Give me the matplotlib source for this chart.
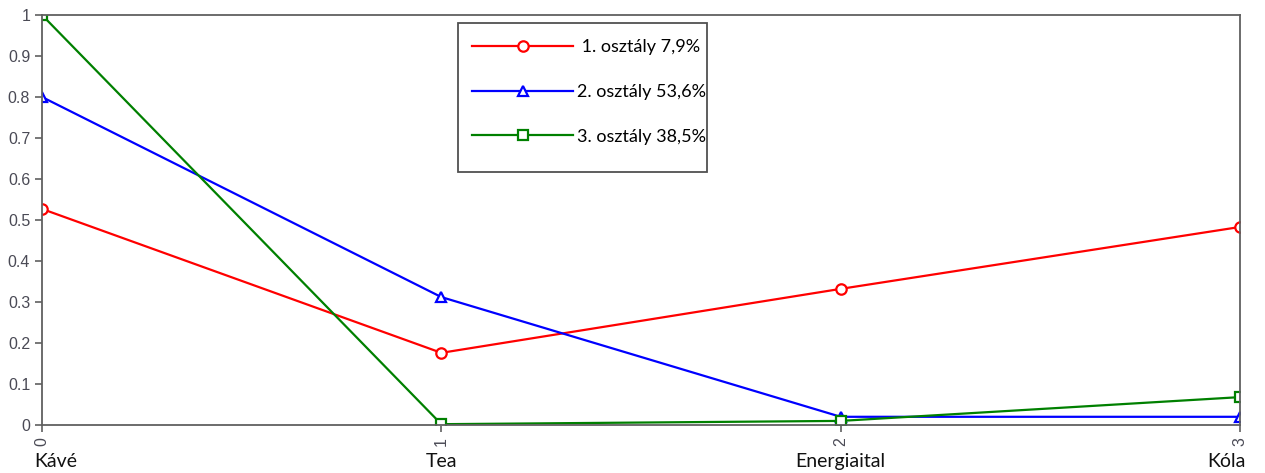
import matplotlib
matplotlib.use("Agg")
import matplotlib.pyplot as plt
from matplotlib.patches import Rectangle

categories = ["Kávé", "Tea", "Energiaital", "Kóla"]
x_ticks = [0, 1, 2, 3]
class1 = [0.527, 0.176, 0.332, 0.483]
class2 = [0.800, 0.312, 0.020, 0.020]
class3 = [1.000, 0.002, 0.010, 0.068]
labels = [" 1. osztály 7,9%", "2. osztály 53,6%", "3. osztály 38,5%"]
y_ticks = [0, 0.1, 0.2, 0.3, 0.4, 0.5, 0.6, 0.7, 0.8, 0.9, 1]
y_ticklabels = ["0", "0.1", "0.2", "0.3", "0.4", "0.5", "0.6", "0.7", "0.8", "0.9", "1"]

plt.rcParams['font.family'] = ['Lato', 'DejaVu Sans']

W, H = 1265, 473
fig = plt.figure(figsize=(W / 100, H / 100), dpi=100)
L, R, T, B = 42, 1240, 15, 425
ax = fig.add_axes([L / W, (H - B) / H, (R - L) / W, (B - T) / H])

def ax_x(px):
    return (px - L) / (R - L)

def ax_y(py):
    return (B - py) / (B - T)

series = [class1, class2, class3]
colors = ["#ff0000", "#0000ff", "#008000"]
markers = ["o", "^", "s"]
for vals, c, m, lab in zip(series, colors, markers, labels):
    ax.plot(x_ticks, vals, color=c, lw=1.6, marker=m, markersize=7.5,
            markerfacecolor="white", markeredgecolor=c, markeredgewidth=1.6,
            label=lab, clip_on=True)

ax.set_xlim(0, 3)
ax.set_ylim(0, 1)
ax.set_yticks(y_ticks)
ax.set_yticklabels(y_ticklabels, fontfamily=['Liberation Sans'], fontsize=11.5, color="#4a4a55")
ax.set_xticks(x_ticks)
ax.set_xticklabels([str(t) for t in x_ticks], rotation=90, fontfamily=['Liberation Sans'],
                   fontsize=11.5, color="#4a4a55")
ax.tick_params(axis='both', direction='out', length=5, width=1.2, color="#606060")
for s in ax.spines.values():
    s.set_color("#606060")
    s.set_linewidth(1.3)

# category labels below the axis (edge labels kept inside the figure)
cat_y = ax_y(461)
for i, (xv, cat) in enumerate(zip(x_ticks, categories)):
    if i == 0:
        ax.text(ax_x(34), cat_y, cat, transform=ax.transAxes, ha='left', va='center',
                fontsize=14, color="#111111")
    elif i == len(categories) - 1:
        ax.text(ax_x(1246), cat_y, cat, transform=ax.transAxes, ha='right', va='center',
                fontsize=14, color="#111111")
    else:
        ax.text(xv, cat_y, cat, transform=ax.get_xaxis_transform(), ha='center', va='center',
                fontsize=14, color="#111111")

leg = ax.legend(loc='upper left', bbox_to_anchor=(ax_x(472), ax_y(39)), fontsize=13,
                handlelength=5.6, labelspacing=1.6, borderpad=0, handletextpad=0.2,
                frameon=False, borderaxespad=0)
ax.add_patch(Rectangle((ax_x(458), ax_y(172)), ax_x(707) - ax_x(458), ax_y(23) - ax_y(172),
                       transform=ax.transAxes, facecolor="white", edgecolor="#505050",
                       linewidth=1.3, zorder=4))
leg.set_zorder(5)

fig.savefig("out.png", dpi=100)
